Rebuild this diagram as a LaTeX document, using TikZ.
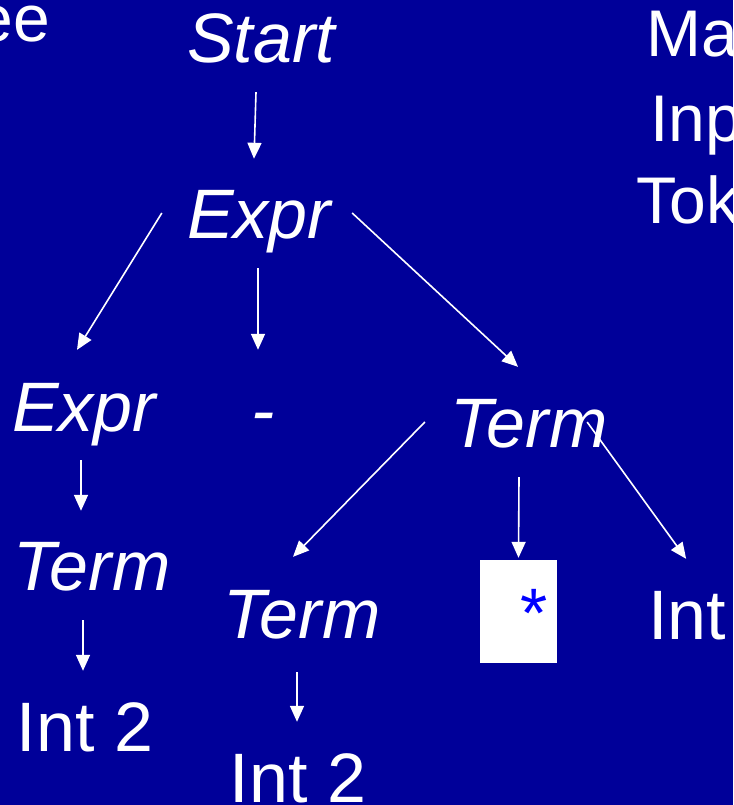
\documentclass[tikz,border=0pt]{standalone}
\usepackage{fontspec}
\setmainfont{Liberation Sans}
\usetikzlibrary{arrows.meta}
\definecolor{slide}{RGB}{0,0,153}

\begin{document}
\begin{tikzpicture}[x = 1pt, y = 1pt,
    sym/.style={text=white, inner sep=0, text height=50pt, text depth=15pt,
      anchor=base, font=\fontsize{70}{84}\selectfont\itshape},
    tok/.style={sym, font=\fontsize{70}{84}\selectfont},
    side/.style={text=white, inner sep=0, font=\fontsize{66}{80}\selectfont},
    arr/.style={white, line width=1.6pt, -{Triangle[length=16pt, width=14pt]}}]
  \fill[slide] (0,0) rectangle (733,-805);
  \useasboundingbox (0,0) rectangle (733,-805);
  \node[side, anchor=base east] (tree) at (50,-42) {ee};
  \node[side, anchor=base west] (match) at (646,-57) {Ma};
  \node[side, anchor=base west] (input) at (650,-142) {Inp};
  \node[side, anchor=base west] (token) at (636.5,-223) {Tok};
  \node[sym] (start) at (261,-63) {Start};
  \node[sym] (expr) at (259,-238) {Expr};
  \node[sym] (exprL) at (84,-431) {Expr};
  \node[sym] (minus) at (263,-434) {-};
  \node[sym] (termR) at (529,-447) {Term};
  \node[sym] (termL) at (92,-590) {Term};
  \node[sym] (termM) at (302,-638) {Term};
  \node[fill=white, inner sep=0, minimum width=77pt, minimum height=103pt] (mulbox) at (518.5,-611.5) {};
  \node[sym, text=blue] (mul) at (531,-637) {*};
  \node[tok, anchor=base west] (int3) at (648,-639) {Int};
  \node[tok] (intL) at (85,-751) {Int 2};
  \node[tok] (intM) at (298,-802) {Int 2};
  \draw[arr] ([shift={(-5pt,-14pt)}]start.south) -- ([shift={(-5pt,29pt)}]expr.north);
  \draw[arr] ([shift={(-25pt,7.5pt)}]expr.west) -- ([shift={(-7pt,31pt)}]exprL.north);
  \draw[arr] ([shift={(-1pt,-15pt)}]expr.south) -- ([shift={(-5pt,34pt)}]minus.north);
  \draw[arr] ([shift={(21pt,7.5pt)}]expr.east) -- ([shift={(-11pt,30pt)}]termR.north);
  \draw[arr] ([shift={(-25.5pt,7.5pt)}]termR.west) -- ([shift={(-9pt,31pt)}]termM.north);
  \draw[arr] ([shift={(-10pt,-15pt)}]termR.south) -- ([yshift=2pt]mulbox.north);
  \draw[arr] ([shift={(-20.5pt,7.5pt)}]termR.east) -- ([shift={(-1pt,30pt)}]int3.north);
  \draw[arr] ([shift={(-3pt,-14pt)}]exprL.south) -- ([shift={(-11pt,29pt)}]termL.north);
  \draw[arr] ([shift={(-9pt,-15pt)}]termL.south) -- ([shift={(-2pt,30pt)}]intL.north);
  \draw[arr] ([shift={(-5pt,-19pt)}]termM.south) -- ([shift={(-1pt,30pt)}]intM.north);
\end{tikzpicture}
\end{document}
